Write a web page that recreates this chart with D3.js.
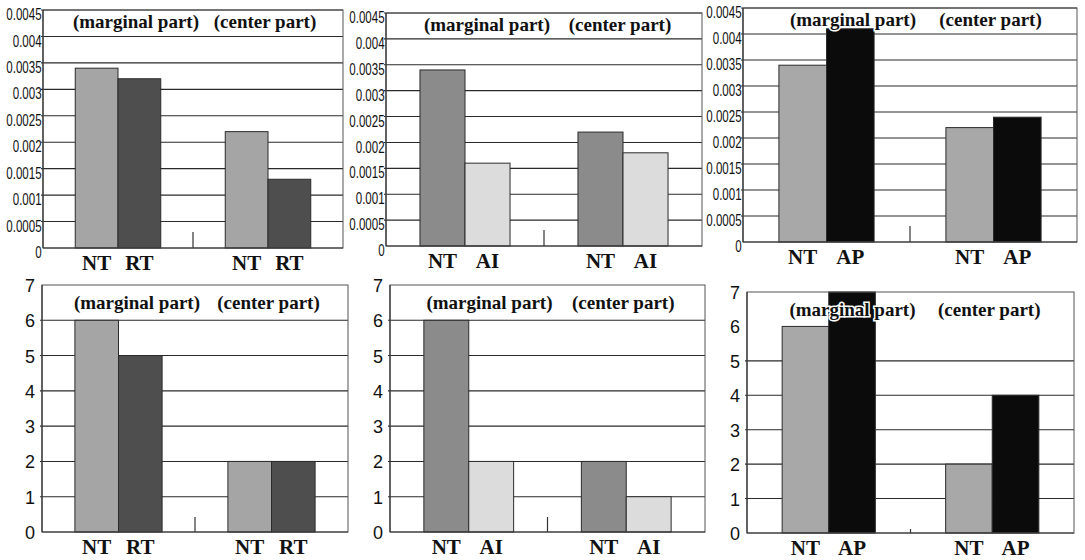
<!DOCTYPE html>
<html>
<head>
<meta charset="utf-8">
<script src="https://cdn.jsdelivr.net/npm/d3@7"></script>
<style>
  html, body { margin: 0; padding: 0; background: #fff; }
  svg { display: block; }
</style>
</head>
<body>
<svg id="chart" width="1085" height="560"></svg>
<script>
// ---------------- DATA ----------------
const groupNames = ["(marginal part)", "(center part)"];
const seriesNames = [["NT", "RT"], ["NT", "AI"], ["NT", "AP"]];

// top row (ratio values)
const ntTop  = [[0.0034, 0.0022], [0.0034, 0.0022], [0.0034, 0.0022]];
const trtTop = [[0.0032, 0.0013], [0.0016, 0.0018], [0.0041, 0.0024]];
const ticksTop = [0, 0.0005, 0.001, 0.0015, 0.002, 0.0025, 0.003, 0.0035, 0.004, 0.0045];
const tickLabelsTop = ["0", "0.0005", "0.001", "0.0015", "0.002", "0.0025", "0.003", "0.0035", "0.004", "0.0045"];

// bottom row (counts)
const ntBottom  = [[6, 2], [6, 2], [6, 2]];
const trtBottom = [[5, 2], [2, 1], [7, 4]];
const ticksBottom = [0, 1, 2, 3, 4, 5, 6, 7];
const tickLabelsBottom = ["0", "1", "2", "3", "4", "5", "6", "7"];
const gridBottom = [[1, 2, 3, 4, 5, 6], [1, 2, 3, 4, 5, 6], [1, 2, 3, 4, 5]];

// ---------------- STYLE / LAYOUT ----------------
const ntColors  = ["#a5a5a5", "#8b8b8b", "#a8a8a8"];
const trtColors = ["#4e4e4e", "#dcdcdc", "#0b0b0b"];

const boxesTop = [
  {x0: 43,  x1: 343,  y0: 10, y1: 248},
  {x0: 386, x1: 702,  y0: 13, y1: 246},
  {x0: 743, x1: 1077, y0: 8,  y1: 242}
];
const boxesBottom = [
  {x0: 42,  x1: 348,  y0: 285, y1: 532},
  {x0: 390, x1: 705,  y0: 285, y1: 532},
  {x0: 747, x1: 1074, y0: 292, y1: 533}
];

const svg = d3.select("#chart");

function drawPanel(box, nt, trt, names, ntColor, trtColor, ticks, tickLabels, gridVals, opts) {
  const g = svg.append("g");
  const y = d3.scaleLinear().domain([0, ticks[ticks.length - 1]]).range([box.y1, box.y0]);
  const pi = 0.43;
  const x = d3.scaleBand().domain(groupNames).range([box.x0, box.x1]).paddingInner(pi).paddingOuter(pi / 2);
  const inner = d3.scaleBand().domain([0, 1]).range([0, x.bandwidth()]);

  g.append("rect").attr("x", box.x0).attr("y", box.y0)
    .attr("width", box.x1 - box.x0).attr("height", box.y1 - box.y0)
    .attr("fill", "#fff");

  // gridlines
  g.selectAll("line.grid").data(gridVals).enter().append("line")
    .attr("x1", box.x0 - 2).attr("x2", box.x1)
    .attr("y1", d => y(d)).attr("y2", d => y(d))
    .attr("stroke", "#2a2a2a").attr("stroke-width", 1.1);

  // group separator tick
  const sep = box.x0 + x.step();
  g.append("line").attr("x1", sep).attr("x2", sep)
    .attr("y1", box.y1).attr("y2", box.y1 - opts.sepLen)
    .attr("stroke", "#333").attr("stroke-width", 1.2);

  // bars
  const rows = [];
  groupNames.forEach((gn, gi) => {
    rows.push({g: gn, s: 0, v: nt[gi], c: ntColor});
    rows.push({g: gn, s: 1, v: trt[gi], c: trtColor});
  });
  g.selectAll("rect.bar").data(rows).enter().append("rect")
    .attr("x", d => x(d.g) + inner(d.s))
    .attr("width", inner.bandwidth())
    .attr("y", d => y(d.v))
    .attr("height", d => y(0) - y(d.v))
    .attr("fill", d => d.c)
    .attr("stroke", "#2b2b2b").attr("stroke-width", 1);

  // frame border
  g.append("rect").attr("x", box.x0).attr("y", box.y0)
    .attr("width", box.x1 - box.x0).attr("height", box.y1 - box.y0)
    .attr("fill", "none").attr("stroke", "#555").attr("stroke-width", 1);
  g.append("line").attr("x1", box.x0).attr("x2", box.x0).attr("y1", box.y0).attr("y2", box.y1)
    .attr("stroke", "#333").attr("stroke-width", 1.2);
  g.append("line").attr("x1", box.x0).attr("x2", box.x1).attr("y1", box.y1).attr("y2", box.y1)
    .attr("stroke", "#333").attr("stroke-width", 1.2);

  // y axis labels
  const axis = d3.axisLeft(y).tickValues(ticks)
    .tickFormat((d, i) => tickLabels[i]).tickSize(0).tickPadding(opts.tickPad);
  const ax = g.append("g").attr("transform", `translate(${box.x0},0)`).call(axis);
  ax.select(".domain").remove();
  ax.selectAll("text")
    .attr("font-family", "'Liberation Sans', Arial, sans-serif")
    .attr("font-size", opts.tickSize)
    .attr("fill", "#111")
    .attr("dy", opts.tickDy)
    .attr("transform", `scale(${opts.tickScale},1)`);

  // group titles
  const titleFont = "'Liberation Serif', 'Times New Roman', serif";
  g.append("text").text(groupNames[0])
    .attr("x", sep + opts.margShift).attr("y", box.y0 + opts.titleOff)
    .attr("text-anchor", "end")
    .attr("font-family", titleFont)
    .attr("font-weight", "bold").attr("font-size", 19).attr("fill", "#111")
    .attr("stroke", "#fff").attr("stroke-width", 3).attr("paint-order", "stroke");
  g.append("text").text(groupNames[1])
    .attr("x", x(groupNames[1]) + x.bandwidth() / 2 - 3).attr("y", box.y0 + opts.titleOff)
    .attr("text-anchor", "middle")
    .attr("font-family", titleFont)
    .attr("font-weight", "bold").attr("font-size", 19).attr("fill", "#111")
    .attr("stroke", "#fff").attr("stroke-width", 3).attr("paint-order", "stroke");

  // category labels under each bar
  g.selectAll("text.cat").data(rows).enter().append("text")
    .text(d => names[d.s])
    .attr("x", d => x(d.g) + inner(d.s) + inner.bandwidth() / 2)
    .attr("y", box.y1 + opts.catOff)
    .attr("text-anchor", "middle")
    .attr("font-family", titleFont)
    .attr("font-weight", "bold").attr("font-size", 21).attr("fill", "#111");
}

boxesTop.forEach((b, i) => {
  drawPanel(b, ntTop[i], trtTop[i], seriesNames[i], ntColors[i], trtColors[i],
    ticksTop, tickLabelsTop, ticksTop.slice(1),
    {sepLen: 16, tickPad: 2, tickScale: 0.7, tickSize: 16.5, tickDy: "0.58em",
     titleOff: 18, catOff: 22, margShift: 6});
});
boxesBottom.forEach((b, i) => {
  drawPanel(b, ntBottom[i], trtBottom[i], seriesNames[i], ntColors[i], trtColors[i],
    ticksBottom, tickLabelsBottom, gridBottom[i],
    {sepLen: i === 2 ? 4 : 15, tickPad: 7, tickScale: 1, tickSize: 18, tickDy: "0.36em",
     titleOff: 24, catOff: 22, margShift: 5});
});
</script>
</body>
</html>
